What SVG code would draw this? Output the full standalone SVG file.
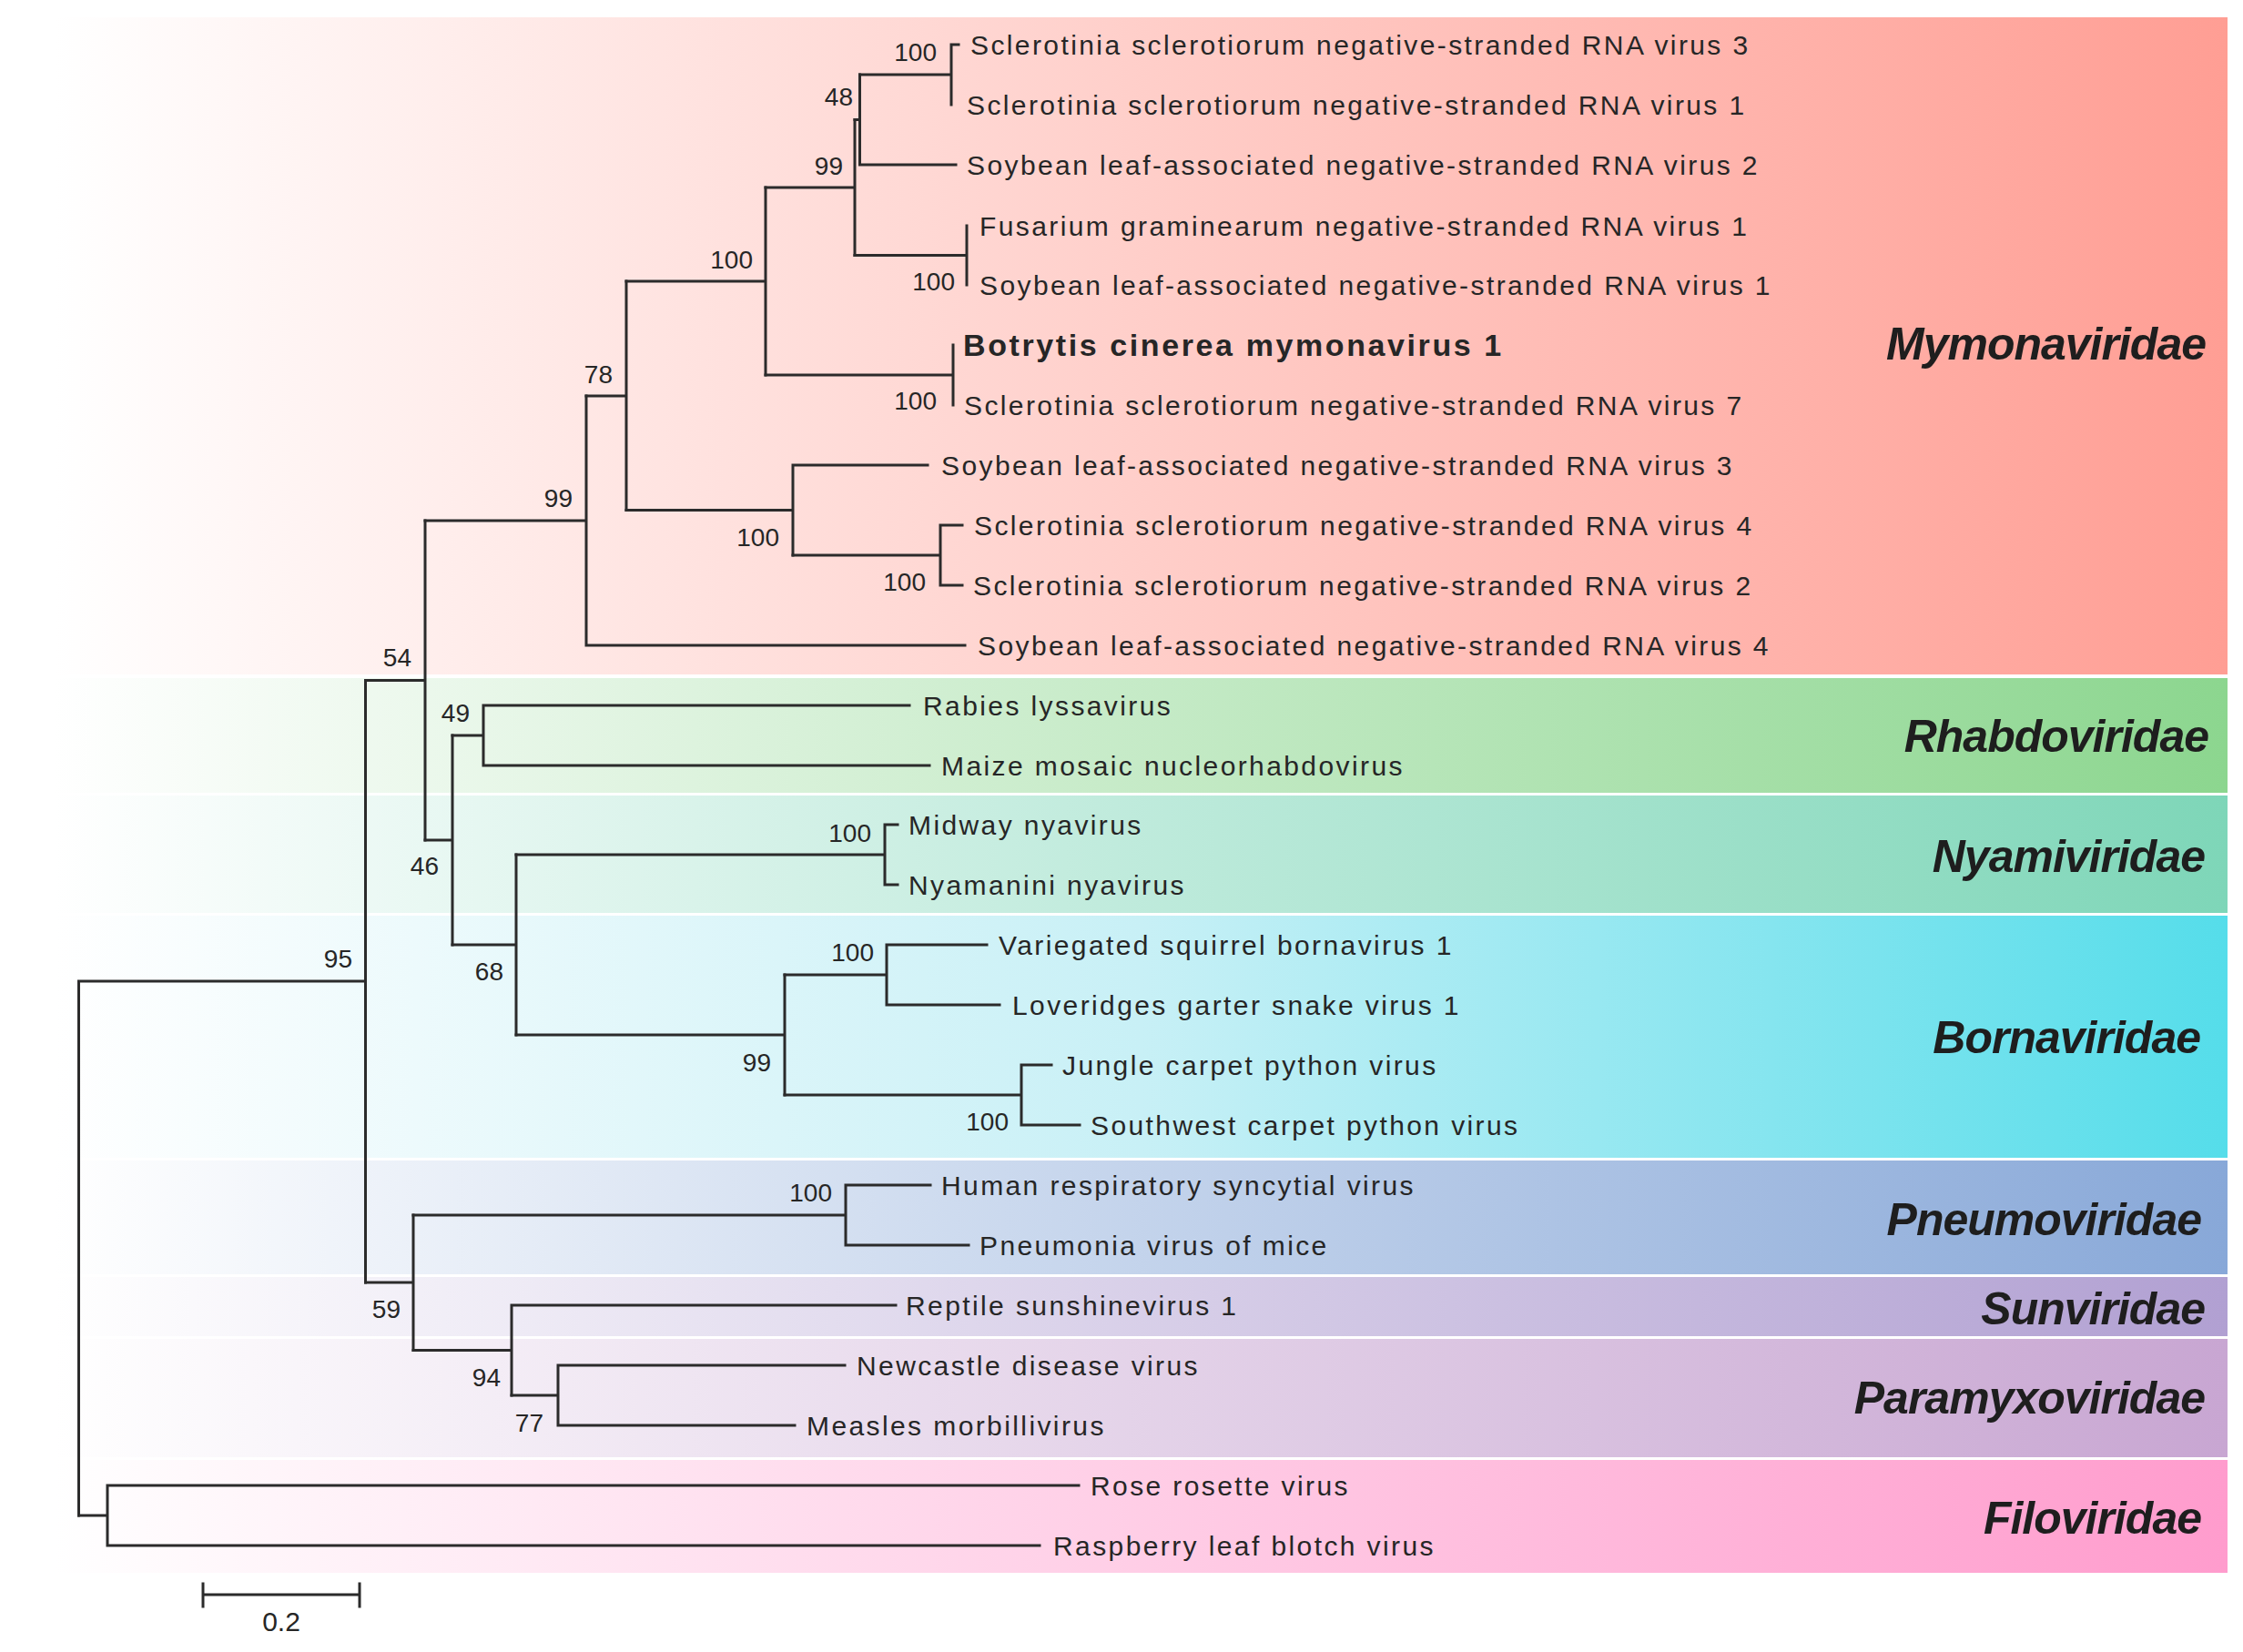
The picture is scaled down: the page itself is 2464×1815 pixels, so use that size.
<svg xmlns="http://www.w3.org/2000/svg" width="2464" height="1815" viewBox="0 0 2464 1815">
<defs>
<linearGradient id="gMymo" x1="0" x2="1" y1="0" y2="0"><stop offset="0" stop-color="#ffffff"/><stop offset="1" stop-color="#ff9e94"/></linearGradient>
<linearGradient id="gRhab" x1="0" x2="1" y1="0" y2="0"><stop offset="0" stop-color="#ffffff"/><stop offset="1" stop-color="#8cd68f"/></linearGradient>
<linearGradient id="gNyam" x1="0" x2="1" y1="0" y2="0"><stop offset="0" stop-color="#ffffff"/><stop offset="1" stop-color="#7ed6b8"/></linearGradient>
<linearGradient id="gBorn" x1="0" x2="1" y1="0" y2="0"><stop offset="0" stop-color="#ffffff"/><stop offset="0.5" stop-color="#c8f0f6"/><stop offset="1" stop-color="#55ddea"/></linearGradient>
<linearGradient id="gPneu" x1="0" x2="1" y1="0" y2="0"><stop offset="0" stop-color="#ffffff"/><stop offset="1" stop-color="#88a8d8"/></linearGradient>
<linearGradient id="gSunv" x1="0" x2="1" y1="0" y2="0"><stop offset="0" stop-color="#ffffff"/><stop offset="1" stop-color="#b1a0d2"/></linearGradient>
<linearGradient id="gPara" x1="0" x2="1" y1="0" y2="0"><stop offset="0" stop-color="#ffffff"/><stop offset="1" stop-color="#c8a6d2"/></linearGradient>
<linearGradient id="gFilo" x1="0" x2="1" y1="0" y2="0"><stop offset="0" stop-color="#ffffff"/><stop offset="1" stop-color="#ff9ccd"/></linearGradient>
</defs>
<style>
.br{stroke:#2b2b2b;stroke-width:3;fill:none;stroke-linecap:square}
.lf{font-family:"Liberation Sans",Arial,sans-serif;font-size:30px;letter-spacing:2.4px;fill:#262626}
.bold{font-weight:bold;font-size:34px;letter-spacing:2.6px}
.bs{font-family:"Liberation Sans",Arial,sans-serif;font-size:28px;fill:#262626;text-anchor:end}
.fam{font-family:"Liberation Sans",Arial,sans-serif;font-size:50px;font-weight:bold;font-style:italic;letter-spacing:-1px;fill:#1e1e1e;text-anchor:end}
</style>
<rect x="0" y="0" width="2464" height="1815" fill="#ffffff"/>

<g id="bands">
<g id="band-mymonaviridae"><rect x="60" y="19" width="2387" height="722" fill="url(#gMymo)"/><text class="fam" x="2423" y="395">Mymonaviridae</text></g>
<g id="band-rhabdoviridae"><rect x="60" y="745" width="2387" height="126" fill="url(#gRhab)"/><text class="fam" x="2426" y="826">Rhabdoviridae</text></g>
<g id="band-nyamiviridae"><rect x="60" y="874" width="2387" height="129" fill="url(#gNyam)"/><text class="fam" x="2422" y="958">Nyamiviridae</text></g>
<g id="band-bornaviridae"><rect x="60" y="1006" width="2387" height="266" fill="url(#gBorn)"/><text class="fam" x="2417" y="1157">Bornaviridae</text></g>
<g id="band-pneumoviridae"><rect x="60" y="1275" width="2387" height="125" fill="url(#gPneu)"/><text class="fam" x="2418" y="1357">Pneumoviridae</text></g>
<g id="band-sunviridae"><rect x="60" y="1403" width="2387" height="65" fill="url(#gSunv)"/><text class="fam" x="2422" y="1455">Sunviridae</text></g>
<g id="band-paramyxoviridae"><rect x="60" y="1471" width="2387" height="130" fill="url(#gPara)"/><text class="fam" x="2422" y="1553">Paramyxoviridae</text></g>
<g id="band-filoviridae"><rect x="60" y="1604" width="2387" height="124" fill="url(#gFilo)"/><text class="fam" x="2418" y="1685">Filoviridae</text></g>
</g>

<g id="connectors" class="br">
<path d="M86.5,1078 V1665 M86.5,1078 H401.5 M401.5,747.5 V1409"/>
<path d="M401.5,747.5 H467 M467,572 V923"/>
<path d="M467,572 H644 M644,435 V709 M644,709 H1060"/>
<path d="M644,435 H688 M688,309 V560.5"/>
<path d="M688,309 H841 M841,206 V412"/>
<path d="M841,206 H939 M939,131.5 V280.5"/>
<path d="M939,131.5 H944.5 M944.5,82 V181 M944.5,181 H1050"/>
<path d="M944.5,82 H1045 M1045,49 V115 M1045,49 H1053"/>
<path d="M939,280.5 H1062 M1062,248 V313"/>
<path d="M841,412 H1047 M1047,379 V445"/>
<path d="M688,560.5 H871 M871,511 V610 M871,511 H1019"/>
<path d="M871,610 H1033 M1033,577 V643 M1033,577 H1057 M1033,643 H1057"/>
<path d="M467,923 H497 M497,808 V1038"/>
<path d="M497,808 H531 M531,775 V841 M531,775 H999 M531,841 H1021"/>
<path d="M497,1038 H567 M567,939 V1137"/>
<path d="M567,939 H972 M972,906 V972 M972,906 H986 M972,972 H986"/>
<path d="M567,1137 H862 M862,1071 V1203"/>
<path d="M862,1071 H974 M974,1038 V1104 M974,1038 H1084 M974,1104 H1098"/>
<path d="M862,1203 H1122 M1122,1170 V1236 M1122,1170 H1155 M1122,1236 H1186"/>
<path d="M401.5,1409 H454 M454,1335 V1483.5"/>
<path d="M454,1335 H929 M929,1302 V1368 M929,1302 H1022 M929,1368 H1064"/>
<path d="M454,1483.5 H562 M562,1434 V1533 M562,1434 H984"/>
<path d="M562,1533 H613 M613,1500 V1566 M613,1500 H928 M613,1566 H873"/>
<path d="M86.5,1665 H118 M118,1632 V1698 M118,1632 H1185 M118,1698 H1142"/>
</g>

<g id="bootstrap">
<text class="bs" x="1029" y="67">100</text>
<text class="bs" x="937" y="116">48</text>
<text class="bs" x="926" y="192">99</text>
<text class="bs" x="827" y="295">100</text>
<text class="bs" x="1049" y="319">100</text>
<text class="bs" x="673" y="421">78</text>
<text class="bs" x="1029" y="450">100</text>
<text class="bs" x="629" y="557">99</text>
<text class="bs" x="856" y="600">100</text>
<text class="bs" x="1017" y="649">100</text>
<text class="bs" x="452" y="732">54</text>
<text class="bs" x="516" y="793">49</text>
<text class="bs" x="957" y="925">100</text>
<text class="bs" x="482" y="961">46</text>
<text class="bs" x="960" y="1056">100</text>
<text class="bs" x="387" y="1063">95</text>
<text class="bs" x="553" y="1077">68</text>
<text class="bs" x="847" y="1177">99</text>
<text class="bs" x="1108" y="1242">100</text>
<text class="bs" x="914" y="1320">100</text>
<text class="bs" x="440" y="1448">59</text>
<text class="bs" x="550" y="1523">94</text>
<text class="bs" x="597" y="1573">77</text>
</g>

<g id="leaves" class="lf">
<g id="leaf-ssnsrv3"><text x="1066" y="60">Sclerotinia sclerotiorum negative-stranded RNA virus 3</text></g>
<g id="leaf-ssnsrv1"><text x="1062" y="126">Sclerotinia sclerotiorum negative-stranded RNA virus 1</text></g>
<g id="leaf-slansrv2"><text x="1062" y="192">Soybean leaf-associated negative-stranded RNA virus 2</text></g>
<g id="leaf-fgnsrv1"><text x="1076" y="259">Fusarium graminearum negative-stranded RNA virus 1</text></g>
<g id="leaf-slansrv1"><text x="1076" y="324">Soybean leaf-associated negative-stranded RNA virus 1</text></g>
<g id="leaf-bcmv1"><text class="bold" x="1058" y="391">Botrytis cinerea mymonavirus 1</text></g>
<g id="leaf-ssnsrv7"><text x="1059" y="456">Sclerotinia sclerotiorum negative-stranded RNA virus 7</text></g>
<g id="leaf-slansrv3"><text x="1034" y="522">Soybean leaf-associated negative-stranded RNA virus 3</text></g>
<g id="leaf-ssnsrv4"><text x="1070" y="588">Sclerotinia sclerotiorum negative-stranded RNA virus 4</text></g>
<g id="leaf-ssnsrv2"><text x="1069" y="654">Sclerotinia sclerotiorum negative-stranded RNA virus 2</text></g>
<g id="leaf-slansrv4"><text x="1074" y="720">Soybean leaf-associated negative-stranded RNA virus 4</text></g>
<g id="leaf-rabies"><text x="1014" y="786">Rabies lyssavirus</text></g>
<g id="leaf-maize"><text x="1034" y="852">Maize mosaic nucleorhabdovirus</text></g>
<g id="leaf-midway"><text x="998" y="917">Midway nyavirus</text></g>
<g id="leaf-nyamanini"><text x="998" y="983">Nyamanini nyavirus</text></g>
<g id="leaf-variegated"><text x="1097" y="1049">Variegated squirrel bornavirus 1</text></g>
<g id="leaf-loveridges"><text x="1112" y="1115">Loveridges garter snake virus 1</text></g>
<g id="leaf-jungle"><text x="1167" y="1181">Jungle carpet python virus</text></g>
<g id="leaf-southwest"><text x="1198" y="1247">Southwest carpet python virus</text></g>
<g id="leaf-hrsv"><text x="1034" y="1313">Human respiratory syncytial virus</text></g>
<g id="leaf-pvm"><text x="1076" y="1379">Pneumonia virus of mice</text></g>
<g id="leaf-reptile"><text x="995" y="1445">Reptile sunshinevirus 1</text></g>
<g id="leaf-newcastle"><text x="941" y="1511">Newcastle disease virus</text></g>
<g id="leaf-measles"><text x="886" y="1577">Measles morbillivirus</text></g>
<g id="leaf-rose"><text x="1198" y="1643">Rose rosette virus</text></g>
<g id="leaf-raspberry"><text x="1157" y="1709">Raspberry leaf blotch virus</text></g>
</g>

<g id="scale-bar">
<path class="br" d="M223,1752 H395 M223,1740 V1765 M395,1740 V1765"/>
<text x="309" y="1792" style="font-family:'Liberation Sans',Arial,sans-serif;font-size:30px;fill:#262626;text-anchor:middle">0.2</text>
</g>
</svg>
